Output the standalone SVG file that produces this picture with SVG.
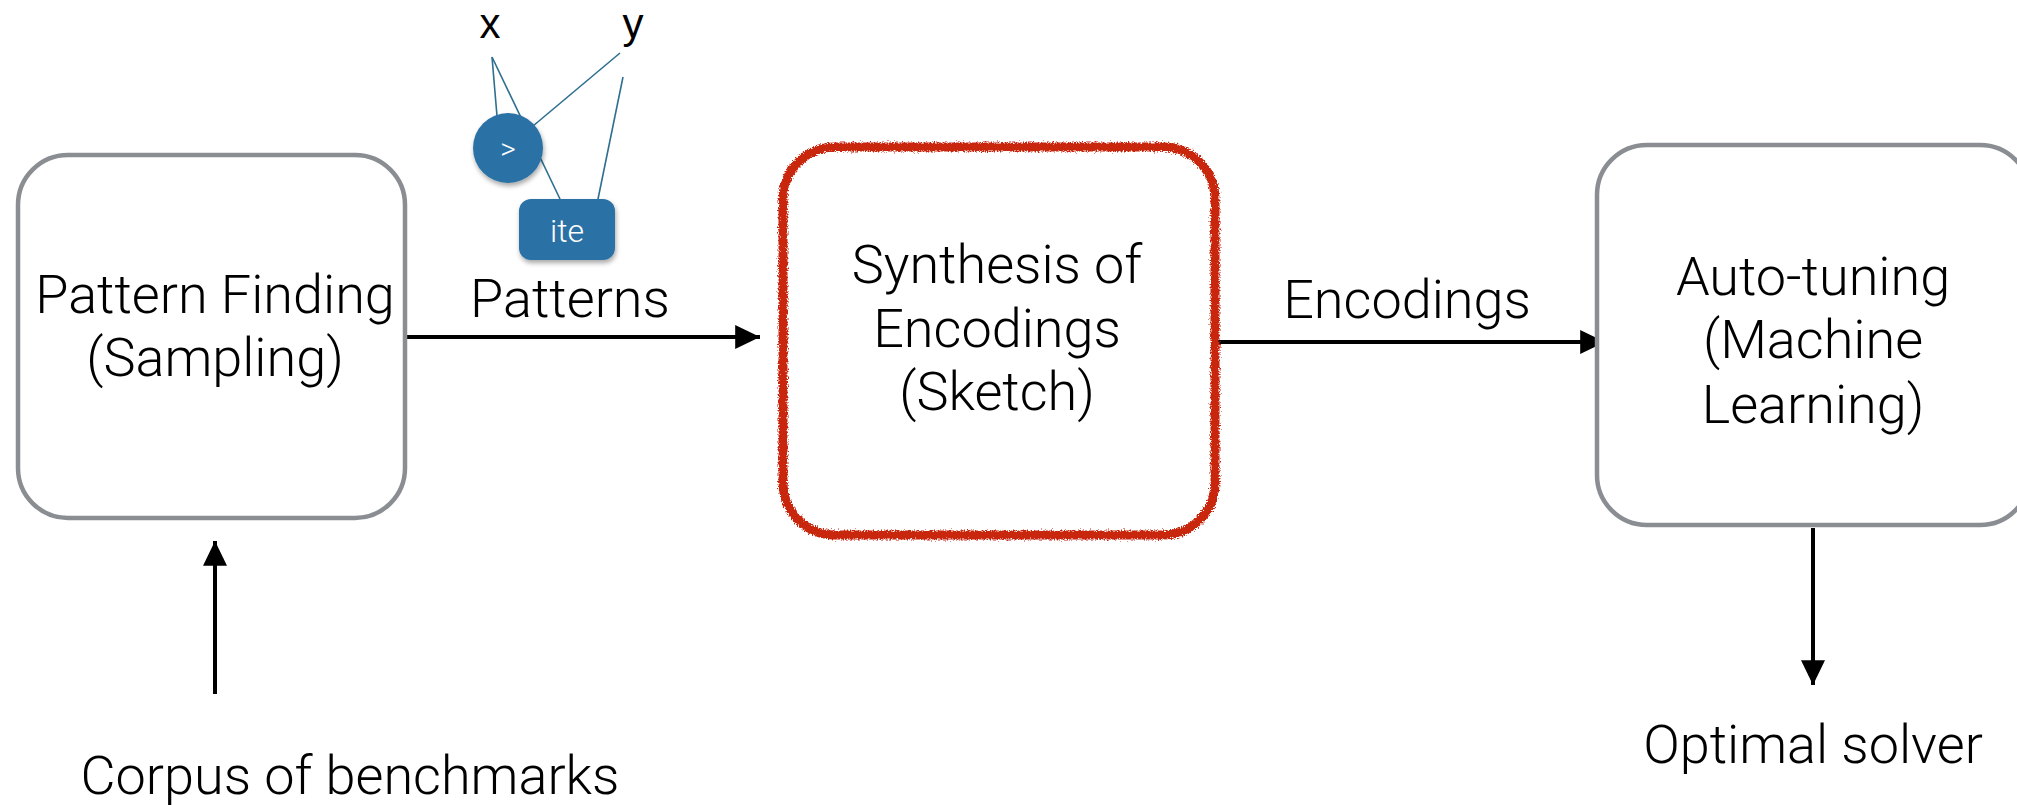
<svg xmlns="http://www.w3.org/2000/svg" width="2017" height="805" viewBox="0 0 2017 805">
<defs>
<style>
.box{fill:#fff;stroke:#8a8d91;stroke-width:4.5}
.lbl{font-family:Roboto,"Liberation Sans",sans-serif;font-weight:300;font-size:54px;fill:#000;text-anchor:middle}
.var{font-family:"Liberation Sans",sans-serif;font-size:42px;fill:#000;text-anchor:middle}
.edge{stroke:#000;stroke-width:4;fill:none}
.tree{stroke:#2e6f8f;stroke-width:1.6;fill:none}
.blue{fill:#2b72a5}
.wt{font-family:Roboto,"Liberation Sans",sans-serif;font-weight:300;fill:#fff;text-anchor:middle}
</style>
<marker id="ah" markerWidth="7" markerHeight="6" refX="6.2" refY="3" orient="auto" markerUnits="strokeWidth">
<path d="M0,0 L6.2,3 L0,6 Z" fill="#000"/>
</marker>
<filter id="rough" x="-5%" y="-5%" width="110%" height="110%">
<feTurbulence type="fractalNoise" baseFrequency="0.7" numOctaves="2" seed="3" result="n"/>
<feDisplacementMap in="SourceGraphic" in2="n" scale="6" xChannelSelector="R" yChannelSelector="G"/>
</filter>
<filter id="sh" x="-30%" y="-30%" width="160%" height="160%">
<feGaussianBlur in="SourceAlpha" stdDeviation="2.5"/>
<feOffset dx="1" dy="3" result="b"/>
<feComponentTransfer><feFuncA type="linear" slope="0.35"/></feComponentTransfer>
<feMerge><feMergeNode/><feMergeNode in="SourceGraphic"/></feMerge>
</filter>
</defs>
<rect width="2017" height="805" fill="#fff"/>

<g id="connectors">
<line class="edge" x1="399" y1="337" x2="760" y2="337" marker-end="url(#ah)"/>
<line class="edge" x1="1205" y1="342" x2="1605" y2="342" marker-end="url(#ah)"/>
<line class="edge" x1="215" y1="694" x2="215" y2="541" marker-end="url(#ah)"/>
<line class="edge" x1="1813" y1="528" x2="1813" y2="685" marker-end="url(#ah)"/>
<text class="lbl" x="570" y="317">Patterns</text>
<text class="lbl" x="1407" y="318">Encodings</text>
</g>

<g id="node-pattern-finding">
<rect class="box" x="18" y="155" width="387" height="363" rx="50"/>
<text class="lbl" x="215" y="313">Pattern Finding</text>
<text class="lbl" x="215" y="376">(Sampling)</text>
</g>

<g id="node-synthesis">
<rect x="783" y="147" width="432" height="388" rx="52" fill="#fff" stroke="#c8260f" stroke-width="9" filter="url(#rough)"/>
<text class="lbl" x="997" y="283">Synthesis of</text>
<text class="lbl" x="997" y="347">Encodings</text>
<text class="lbl" x="997" y="410">(Sketch)</text>
</g>

<g id="node-autotuning">
<rect class="box" x="1597" y="145" width="433" height="380" rx="50"/>
<text class="lbl" x="1813" y="295">Auto-tuning</text>
<text class="lbl" x="1813" y="358">(Machine</text>
<text class="lbl" x="1813" y="423">Learning)</text>
</g>

<g id="node-corpus">
<text class="lbl" x="350" y="794">Corpus of benchmarks</text>
</g>

<g id="node-optimal">
<text class="lbl" x="1813" y="763">Optimal solver</text>
</g>

<g id="node-pattern-tree">
<text class="var" x="490" y="38">x</text>
<text class="var" x="633" y="38">y</text>
<line class="tree" x1="492" y1="57" x2="497" y2="116"/>
<line class="tree" x1="492" y1="57" x2="560" y2="199"/>
<line class="tree" x1="620" y1="53" x2="533" y2="126"/>
<line class="tree" x1="623" y1="77" x2="598" y2="199"/>
<circle class="blue" cx="508" cy="148" r="35" filter="url(#sh)"/>
<text class="wt" x="508" y="159" font-size="30">&gt;</text>
<rect class="blue" x="519" y="199" width="96" height="61" rx="12" filter="url(#sh)"/>
<text class="wt" x="567" y="242" font-size="32">ite</text>
</g>
</svg>
